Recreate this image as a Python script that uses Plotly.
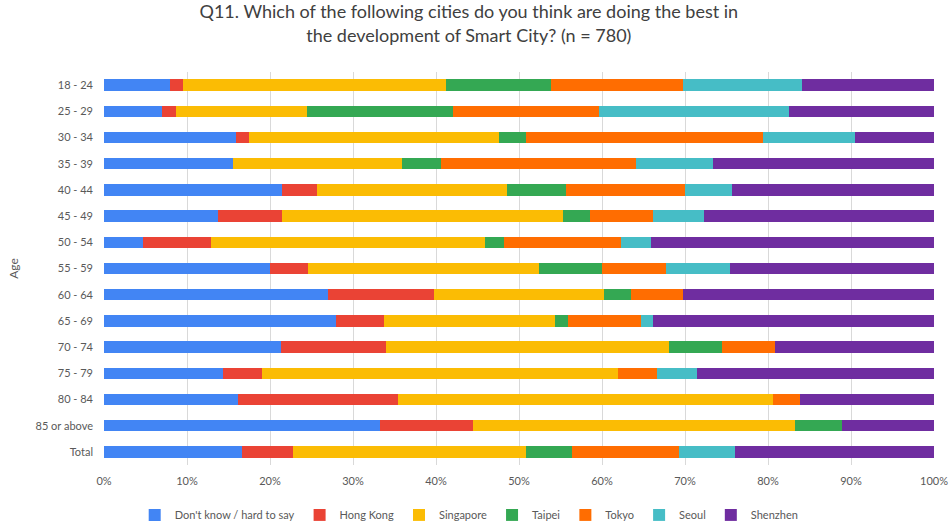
import plotly.graph_objects as go

ages = ["18 - 24", "25 - 29", "30 - 34", "35 - 39", "40 - 44", "45 - 49", "50 - 54",
        "55 - 59", "60 - 64", "65 - 69", "70 - 74", "75 - 79", "80 - 84", "85 or above", "Total"]

dont_know = [7.9, 7.0, 15.9, 15.6, 21.4, 13.7, 4.7, 20.0, 27.0, 27.9, 21.3, 14.3, 16.1, 33.3, 16.6]
hong_kong = [1.6, 1.7, 1.6, 0.0, 4.3, 7.8, 8.2, 4.6, 12.7, 5.8, 12.7, 4.7, 19.3, 11.2, 6.2]
singapore = [31.7, 15.8, 30.1, 20.3, 22.9, 33.8, 33.0, 27.8, 20.6, 20.6, 34.1, 42.9, 45.2, 38.8, 28.0]
taipei    = [12.7, 17.6, 3.2, 4.7, 7.1, 3.2, 2.3, 7.6, 3.2, 1.6, 6.4, 0.0, 0.0, 5.6, 5.6]
tokyo     = [15.9, 17.5, 28.6, 23.5, 14.3, 7.6, 14.1, 7.7, 6.3, 8.8, 6.3, 4.7, 3.2, 0.0, 12.9]
seoul     = [14.3, 22.9, 11.1, 9.3, 5.7, 6.2, 3.6, 7.7, 0.0, 1.5, 0.0, 4.9, 0.0, 0.0, 6.7]
shenzhen  = [15.9, 17.5, 9.5, 26.6, 24.3, 27.7, 34.1, 24.6, 30.2, 33.8, 19.2, 28.5, 16.2, 11.1, 24.0]

series = [
    ("Don't know / hard to say", dont_know, "#4285F4"),
    ("Hong Kong", hong_kong, "#EA4335"),
    ("Singapore", singapore, "#FBBC04"),
    ("Taipei", taipei, "#34A853"),
    ("Tokyo", tokyo, "#FF6D01"),
    ("Seoul", seoul, "#46BDC6"),
    ("Shenzhen", shenzhen, "#6F2DA0"),
]

fig = go.Figure()
for name, vals, col in series:
    fig.add_trace(go.Bar(
        y=ages, x=vals, name=name, orientation="h",
        marker=dict(color=col, line=dict(width=0)),
    ))

fig.update_layout(
    barmode="stack",
    barnorm="percent",
    bargap=0.57,
    width=951, height=523,
    paper_bgcolor="white", plot_bgcolor="white",
    margin=dict(l=104, r=17, t=72, b=58, autoexpand=False),
    font=dict(family="Lato, sans-serif", color="#595959", size=11),
    title=dict(
        text="Q11. Which of the following cities do you think are doing the best in<br>the development of Smart City? (n = 780)",
        x=0.493, xref="container", xanchor="center",
        y=0.965, yref="container", yanchor="top",
        font=dict(size=18, color="#404040", family="Lato, sans-serif"),
    ),
    xaxis=dict(
        range=[0, 100], ticksuffix="%", dtick=10, tick0=0,
        showgrid=True, gridcolor="#d9d9d9", gridwidth=1,
        zeroline=False, showline=False,
        tickfont=dict(size=11, color="#595959"),
        ticks="", ticklabelstandoff=8,
    ),
    yaxis=dict(
        autorange="reversed",
        title=dict(text="Age", font=dict(size=12, color="#595959"), standoff=14),
        tickfont=dict(size=11, color="#595959"),
        showgrid=False, ticks="", ticklabelstandoff=10,
    ),
    legend=dict(
        orientation="h", x=0.44, xref="paper", xanchor="center",
        y=-0.127, yanchor="middle",
        font=dict(size=11, color="#595959"),
        traceorder="normal", itemsizing="constant",
    ),
)

fig.write_html("out.html")
